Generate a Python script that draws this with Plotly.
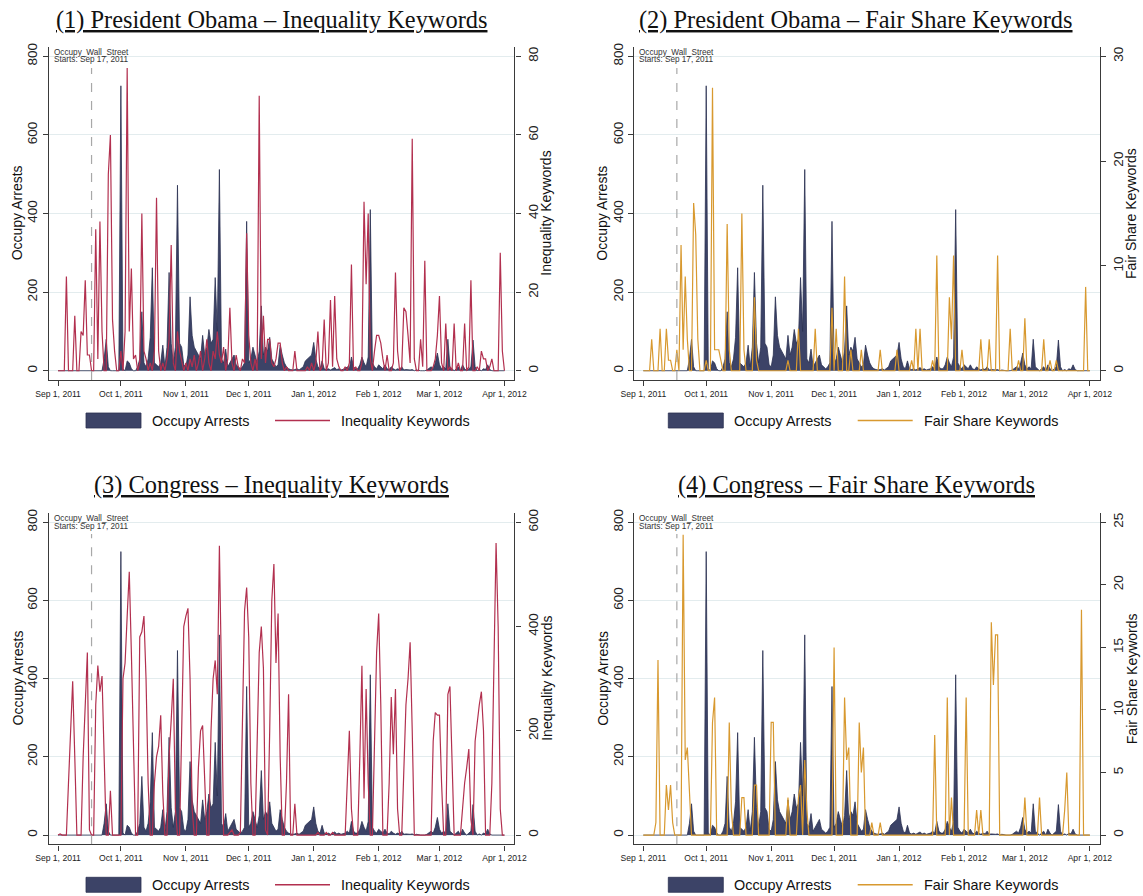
import plotly.graph_objects as go
from datetime import datetime, timedelta

W, H = 1143, 896
START = datetime(2011, 9, 1)

# ---------------- data (daily, Sep 1 2011 .. Apr 1 2012) ----------------
arrests_sep = [0,0,0,0,0,0,0,0,0,0, 0,0,0,0,0,0,0,0,0,0, 0,0,30,80,10,0,0,0,0,0]
arrests_oct = [725,5,0,25,20,5,0,0,10,30, 150,20,10,30,85,262,20,15,10,20, 65,10,60,250,70,20,60,472,70,60, 15]
arrests_nov = [10,40,188,90,60,50,40,30,90,40, 60,105,70,80,237,100,512,30,20,55, 10,20,30,40,15,10,5,10,20,380]
arrests_dec = [20,30,60,40,20,50,165,40,60,50, 85,30,20,10,15,65,40,20,10,5, 3,2,3,5,2,5,10,25,30,35, 40]
arrests_jan = [72,30,10,5,25,5,3,5,2,5, 8,3,5,2,3,5,10,5,35,10, 5,5,15,35,20,10,35,410,20,10, 5]
arrests_feb = [15,10,5,15,5,3,10,5,2,5, 3,10,2,3,2,2,3,0,2,0, 0,0,0,2,5,10,5,20,45]
arrests_mar = [15,5,10,5,80,10,5,0,5,10, 0,15,5,0,5,10,78,10,0,3, 0,5,3,15,3,0,0,0,0,0, 0]
arrests_apr = [0]

obama_ineq_sep = [0,0,0,0,24,0,0,0,14,0, 0,10,9,23,4,4,0,0,36,3, 38,10,0,0,50,60,13,5,0,0]
obama_ineq_oct = [5,0,10,77,10,26,3,4,0,2, 40,5,3,0,2,0,5,44,5,0, 2,0,3,8,32,2,0,10,5,2, 0]
obama_ineq_nov = [2,0,3,1,4,0,2,5,0,3, 8,2,0,5,3,10,4,2,6,0, 3,16,2,0,4,1,0,3,2,35]
obama_ineq_dec = [9,2,0,3,0,70,3,14,2,8, 8,2,1,3,7,7,2,0,1,0, 0,0,5,0,0,0,0,0,1,0, 2]
obama_ineq_jan = [0,2,10,0,1,13,0,2,18,1, 19,3,1,0,0,1,0,2,27,0, 1,0,0,2,43,22,40,3,0,5, 9]
obama_ineq_feb = [9,7,3,0,4,0,0,2,25,5, 0,1,16,15,9,2,59,3,0,0, 8,1,28,0,0,0,1,3,9]
obama_ineq_mar = [19,2,0,12,0,1,0,12,0,2, 0,0,12,0,1,23,0,0,1,0, 5,3,3,0,1,3,0,0,0,30, 5]
obama_ineq_apr = [0]

obama_fair_sep = [0,0,0,0,3,0,0,0,4,0, 0,4,1,1,0,0,2,0,12,2, 9,3,0,0,16,13,3,0,0,0]
obama_fair_oct = [1,0,0,27,2,2,2,1,0,0, 14,2,0,0,0,0,0,15,2,0, 0,0,0,7,1,0,0,0,0,0, 0]
obama_fair_nov = [0,0,0,0,0,0,0,0,1,0, 0,0,0,4,0,0,0,0,0,0, 0,4,0,0,0,0,0,0,0,6]
obama_fair_dec = [0,4,0,0,0,9,0,0,2,0, 0,0,0,2,0,0,0,0,0,0, 0,0,2,0,0,0,0,0,0,0, 2]
obama_fair_jan = [0,0,0,0,0,0,1,0,4,0, 4,0,0,0,0,0,1,0,11,0, 0,0,0,0,7,3,11,0,0,0, 2]
obama_fair_feb = [0,0,0,0,0,0,0,0,3,0, 0,0,3,0,0,0,11,0,0,0, 0,0,4,0,0,0,1,0,0]
obama_fair_mar = [5,0,0,0,0,0,0,0,0,3, 0,0,1,0,0,1,0,0,0,0, 0,0,0,0,0,0,0,0,0,8, 0]
obama_fair_apr = [0]

congress_ineq_sep = [0,2,0,0,0,100,200,295,150,0, 0,0,150,260,350,10,0,0,250,325, 275,305,150,0,0,85,0,0,0,0]
congress_ineq_oct = [0,300,330,420,505,350,150,0,0,380, 390,420,300,100,0,0,100,150,170,230, 80,0,0,150,220,300,50,0,0,200, 400]
congress_ineq_nov = [420,435,300,50,0,0,130,200,210,100, 0,0,200,300,335,270,555,300,0,0, 0,5,10,0,0,0,5,200,430,475]
congress_ineq_dec = [380,100,0,0,200,350,400,320,10,0, 200,450,520,330,425,150,0,0,100,270, 0,0,60,0,0,0,0,0,0,0, 0]
congress_ineq_jan = [0,0,5,0,0,0,5,0,0,5, 0,0,0,0,0,0,100,200,50,0, 0,0,150,325,70,280,100,0,0,200, 350]
congress_ineq_feb = [425,250,0,0,0,100,265,155,280,50, 0,0,150,250,300,370,200,0,0,0, 0,0,0,0,0,0,180,235,230]
congress_ineq_mar = [230,100,0,0,270,285,150,0,0,0, 0,50,100,130,165,30,0,180,220,250, 275,200,0,0,0,100,300,560,400,50, 0]
congress_ineq_apr = [0]

congress_fair_sep = [0,0,0,0,0,0,1,14,0,0, 0,4,2,4,1,0,0,0,0,24, 6,7,3,0,0,0,0,0,0,0]
congress_fair_oct = [0,0,0,9,11,0,0,0,0,0, 0,9,2,0,0,0,0,3,3,0, 0,0,0,4,4,0,0,0,0,0, 0]
congress_fair_nov = [9,9,0,0,0,0,0,0,3,0, 0,0,0,3,4,0,6,2,0,0, 0,0,0,0,0,0,0,0,0,0]
congress_fair_dec = [15,0,0,0,0,11,6,7,0,0, 0,0,9,5,7,0,0,0,1,0, 0,0,1,0,0,0,0,0,0,0, 0]
congress_fair_jan = [0,0,0,0,0,0,0,0,0,0, 0,0,0,0,0,0,0,8,0,0, 0,0,0,11,0,3,0,0,0,0, 0]
congress_fair_feb = [0,11,0,0,0,0,2,0,2,0, 0,0,0,17,12,16,16,0,0,0, 0,0,0,0,0,0,0,0,0]
congress_fair_mar = [3,0,0,0,0,0,0,3,0,0, 0,0,0,0,0,0,0,0,0,2, 5,0,0,0,0,0,0,18,0,0, 0]
congress_fair_apr = [0]

arrests = arrests_sep + arrests_oct + arrests_nov + arrests_dec + arrests_jan + arrests_feb + arrests_mar + arrests_apr
obama_ineq = obama_ineq_sep + obama_ineq_oct + obama_ineq_nov + obama_ineq_dec + obama_ineq_jan + obama_ineq_feb + obama_ineq_mar + obama_ineq_apr
obama_fair = obama_fair_sep + obama_fair_oct + obama_fair_nov + obama_fair_dec + obama_fair_jan + obama_fair_feb + obama_fair_mar + obama_fair_apr
congress_ineq = congress_ineq_sep + congress_ineq_oct + congress_ineq_nov + congress_ineq_dec + congress_ineq_jan + congress_ineq_feb + congress_ineq_mar + congress_ineq_apr
congress_fair = congress_fair_sep + congress_fair_oct + congress_fair_nov + congress_fair_dec + congress_fair_jan + congress_fair_feb + congress_fair_mar + congress_fair_apr

dates = [START + timedelta(days=i) for i in range(len(arrests))]

tick_dates = ["2011-09-01", "2011-10-01", "2011-11-01", "2011-12-01",
              "2012-01-01", "2012-02-01", "2012-03-01", "2012-04-01"]
tick_text = ["Sep 1, 2011", "Oct 1, 2011", "Nov 1, 2011", "Dec 1, 2011",
             "Jan 1, 2012", "Feb 1, 2012", "Mar 1, 2012", "Apr 1, 2012"]
left_ticks = [0, 200, 400, 600, 800]
ows_date = "2011-09-17"

panels = [
    dict(title="(1) President Obama \u2013 Inequality Keywords", series=obama_ineq,
         name="Inequality Keywords", color="#B2304F", rmax=80, rticks=[0, 20, 40, 60, 80]),
    dict(title="(2) President Obama \u2013 Fair Share Keywords", series=obama_fair,
         name="Fair Share Keywords", color="#D8992F", rmax=30, rticks=[0, 10, 20, 30]),
    dict(title="(3) Congress \u2013 Inequality Keywords", series=congress_ineq,
         name="Inequality Keywords", color="#B2304F", rmax=600, rticks=[0, 200, 400, 600]),
    dict(title="(4) Congress \u2013 Fair Share Keywords", series=congress_fair,
         name="Fair Share Keywords", color="#D8992F", rmax=25, rticks=[0, 5, 10, 15, 20, 25]),
]

# ---------------- geometry (pixels) ----------------
col_x = [(49.0, 514.3), (634.3, 1099.7)]
row_y = [(46.7, 380.0), (512.7, 844.3)]
title_x = [271, 856]
title_y = [20, 485]
legend_y = [420.5, 884.8]
LEFT_RANGE = [-23.6, 824.5]
X_RANGE = [START + timedelta(days=-4.3), START + timedelta(days=217.7)]

ARREST_FILL = "#3C4367"
ARREST_LINE = "#2B3152"
AXIS_COL = "#3a3a3a"
FONT = "Liberation Sans"

def px(x):
    return x / W

def py(y):
    return 1 - y / H

fig = go.Figure()
annotations = []
shapes = []
layout = {}

for i, p in enumerate(panels):
    r, c = divmod(i, 2)
    n = i + 1
    xa = "x" if n == 1 else f"x{n}"
    ly = 2 * i + 1
    ry = 2 * i + 2
    lya = "y" if ly == 1 else f"y{ly}"
    rya = f"y{ry}"
    xkey = "xaxis" if n == 1 else f"xaxis{n}"
    lkey = "yaxis" if ly == 1 else f"yaxis{ly}"
    rkey = f"yaxis{ry}"
    x0, x1 = col_x[c]
    y0, y1 = row_y[r]

    fig.add_trace(go.Scatter(x=dates, y=arrests, xaxis=xa, yaxis=lya, mode="lines",
                             line=dict(color=ARREST_LINE, width=0.8), fill="tozeroy",
                             fillcolor=ARREST_FILL, showlegend=False, name="Occupy Arrests"))
    fig.add_trace(go.Scatter(x=dates, y=p["series"], xaxis=xa, yaxis=rya, mode="lines",
                             line=dict(color=p["color"], width=1.2), showlegend=False,
                             name=p["name"]))

    layout[xkey] = dict(domain=[px(x0), px(x1)], anchor=lya, range=X_RANGE, type="date",
                        tickvals=tick_dates, ticktext=tick_text, ticks="outside", ticklen=5,
                        tickwidth=1.2, tickcolor=AXIS_COL, showline=True, linecolor=AXIS_COL,
                        linewidth=1.4, showgrid=False, zeroline=False,
                        tickfont=dict(family=FONT, size=8.6, color="#222"))
    layout[lkey] = dict(domain=[py(y1), py(y0)], anchor=xa, range=LEFT_RANGE,
                        tickvals=left_ticks, ticks="outside", ticklen=5, tickwidth=1.2,
                        tickcolor=AXIS_COL, showline=True, linecolor=AXIS_COL, linewidth=1.4,
                        showgrid=True, gridcolor="#E3ECEE", gridwidth=1, zeroline=False,
                        tickangle=-90, tickfont=dict(family=FONT, size=13.5, color="#222"))
    scale = p["rmax"] / 800.0
    layout[rkey] = dict(overlaying=lya, side="right", anchor=xa,
                        range=[LEFT_RANGE[0] * scale, LEFT_RANGE[1] * scale],
                        tickvals=p["rticks"], ticks="outside", ticklen=5, tickwidth=1.2,
                        tickcolor=AXIS_COL, showline=True, linecolor=AXIS_COL, linewidth=1.4,
                        showgrid=False, zeroline=False, tickangle=-90, ticklabelstandoff=1,
                        tickfont=dict(family=FONT, size=13.5, color="#222"))

    # titles
    annotations.append(dict(text=f"<u>{p['title']}</u>", xref="paper", yref="paper",
                            x=px(title_x[c]), y=py(title_y[r]), xanchor="center", yanchor="middle",
                            showarrow=False, font=dict(family="Liberation Serif", size=24.4, color="#111")))
    # axis titles
    ymid = (y0 + y1) / 2
    annotations.append(dict(text="Occupy Arrests", xref="paper", yref="paper", x=px(x0 - 32),
                            y=py(ymid), textangle=-90, showarrow=False, xanchor="center",
                            yanchor="middle", font=dict(family=FONT, size=14, color="#111")))
    annotations.append(dict(text=p["name"], xref="paper", yref="paper", x=px(x1 + 32),
                            y=py(ymid), textangle=-90, showarrow=False, xanchor="center",
                            yanchor="middle", font=dict(family=FONT, size=14, color="#111")))
    # OWS marker
    shapes.append(dict(type="line", xref=xa, yref=lya, x0=ows_date, x1=ows_date,
                       y0=LEFT_RANGE[0], y1=770, line=dict(color="#A8A8A8", width=1.2, dash="dash")))
    annotations.append(dict(text="Occupy_Wall_Street", xref="paper", yref="paper",
                            x=px(x0 + 2.5), y=py(y0 + 5.6), xanchor="left", yanchor="middle",
                            showarrow=False, font=dict(family=FONT, size=8.2, color="#333")))
    annotations.append(dict(text="Starts: Sep 17, 2011", xref="paper", yref="paper",
                            x=px(x0 + 2.5), y=py(y0 + 13.3), xanchor="left", yanchor="middle",
                            showarrow=False, font=dict(family=FONT, size=8.2, color="#333")))
    # legend (drawn)
    lx = [86, 668.3][c]
    ly_ = legend_y[r]
    shapes.append(dict(type="rect", xref="paper", yref="paper", x0=px(lx), x1=px(lx + 55),
                       y0=py(ly_ + 7.5), y1=py(ly_ - 7.5), fillcolor=ARREST_FILL,
                       line=dict(color=ARREST_LINE, width=0.8)))
    annotations.append(dict(text="Occupy Arrests", xref="paper", yref="paper", x=px(lx + 64),
                            y=py(ly_), xanchor="left", yanchor="middle", showarrow=False,
                            font=dict(family=FONT, size=14.4, color="#111")))
    llx = [275, 857.7][c]
    shapes.append(dict(type="line", xref="paper", yref="paper", x0=px(llx), x1=px(llx + 55),
                       y0=py(ly_), y1=py(ly_), line=dict(color=p["color"], width=1.4)))
    annotations.append(dict(text=p["name"], xref="paper", yref="paper", x=px(llx + 64),
                            y=py(ly_), xanchor="left", yanchor="middle", showarrow=False,
                            font=dict(family=FONT, size=14.4, color="#111")))

fig.update_layout(width=W, height=H, margin=dict(l=0, r=0, t=0, b=0), template="none",
                  paper_bgcolor="white", plot_bgcolor="white", showlegend=False,
                  annotations=annotations, shapes=shapes, **layout)

fig.write_html("out.html")
